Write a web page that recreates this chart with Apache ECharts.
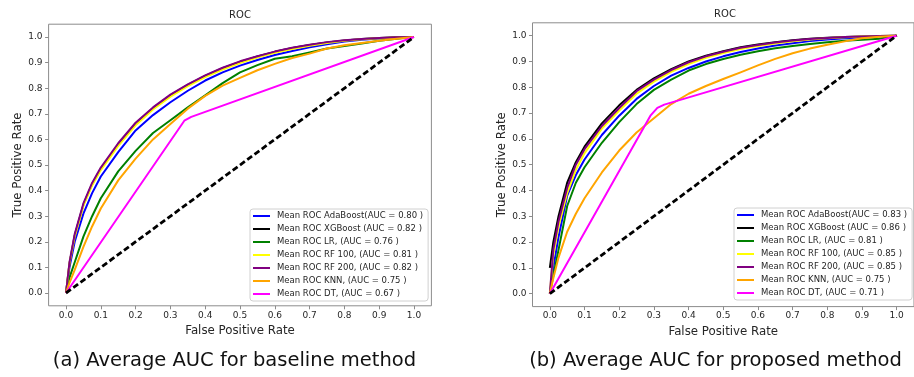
<!DOCTYPE html>
<html>
<head>
<meta charset="utf-8">
<script src="https://cdn.jsdelivr.net/npm/echarts@6/dist/echarts.min.js"></script>
<style>
html,body{margin:0;padding:0;background:#fff;}
#c{width:914px;height:377px;}
</style>
</head>
<body>
<div id="c"></div>
<script>
// ---- data ----
const tickValues = [0, 0.1, 0.2, 0.3, 0.4, 0.5, 0.6, 0.7, 0.8, 0.9, 1.0];
const fprGrid = [0, 0.01, 0.025, 0.05, 0.075, 0.1, 0.15, 0.2, 0.25, 0.3, 0.35, 0.4, 0.45, 0.5, 0.55, 0.6, 0.65, 0.7, 0.75, 0.8, 0.85, 0.9, 0.95, 1.0];

// (a) baseline
const namesA = [
  'Mean ROC AdaBoost(AUC = 0.80 )',
  'Mean ROC XGBoost (AUC = 0.82 )',
  'Mean ROC LR, (AUC = 0.76 )',
  'Mean ROC RF 100, (AUC = 0.81 )',
  'Mean ROC RF 200, (AUC = 0.82 )',
  'Mean ROC KNN, (AUC = 0.75 )',
  'Mean ROC DT, (AUC = 0.67 )'
];
const adaA   = [0, 0.10, 0.20, 0.31, 0.39, 0.455, 0.55, 0.635, 0.695, 0.745, 0.79, 0.83, 0.862, 0.888, 0.91, 0.93, 0.945, 0.96, 0.972, 0.982, 0.989, 0.994, 0.998, 1.0];
const xgbA   = [0, 0.115, 0.225, 0.345, 0.425, 0.485, 0.58, 0.662, 0.722, 0.772, 0.813, 0.848, 0.878, 0.903, 0.924, 0.942, 0.957, 0.969, 0.979, 0.986, 0.992, 0.996, 0.999, 1.0];
const lrA    = [0, 0.06, 0.12, 0.22, 0.30, 0.37, 0.475, 0.555, 0.625, 0.675, 0.725, 0.772, 0.82, 0.862, 0.89, 0.915, 0.925, 0.94, 0.955, 0.965, 0.975, 0.985, 0.993, 1.0];
const rf100A = [0, 0.115, 0.22, 0.34, 0.42, 0.48, 0.575, 0.655, 0.717, 0.767, 0.808, 0.843, 0.873, 0.898, 0.92, 0.938, 0.953, 0.966, 0.977, 0.985, 0.991, 0.995, 0.998, 1.0];
const rf200A = [0, 0.12, 0.23, 0.35, 0.43, 0.49, 0.585, 0.665, 0.725, 0.775, 0.815, 0.85, 0.88, 0.905, 0.925, 0.943, 0.958, 0.97, 0.98, 0.987, 0.992, 0.996, 0.999, 1.0];
const knnA   = [0, 0.04, 0.09, 0.18, 0.26, 0.33, 0.44, 0.525, 0.60, 0.66, 0.72, 0.77, 0.81, 0.84, 0.87, 0.895, 0.918, 0.935, 0.955, 0.968, 0.977, 0.985, 0.993, 1.0];
const dtFprA = [0, 0.34, 0.36, 1.0];
const dtTprA = [0, 0.673, 0.688, 1.0];

// (b) proposed
const namesB = [
  'Mean ROC AdaBoost(AUC = 0.83 )',
  'Mean ROC XGBoost (AUC = 0.86 )',
  'Mean ROC LR, (AUC = 0.81 )',
  'Mean ROC RF 100, (AUC = 0.85 )',
  'Mean ROC RF 200, (AUC = 0.85 )',
  'Mean ROC KNN, (AUC = 0.75 )',
  'Mean ROC DT, (AUC = 0.71 )'
];
const adaB   = [0, 0.10, 0.22, 0.38, 0.46, 0.52, 0.615, 0.69, 0.755, 0.805, 0.845, 0.875, 0.90, 0.92, 0.937, 0.95, 0.962, 0.971, 0.979, 0.985, 0.99, 0.994, 0.998, 1.0];
const xgbB   = [0.1, 0.20, 0.30, 0.43, 0.51, 0.57, 0.66, 0.73, 0.79, 0.835, 0.87, 0.90, 0.922, 0.94, 0.955, 0.966, 0.975, 0.982, 0.988, 0.992, 0.995, 0.997, 0.999, 1.0];
const lrB    = [0, 0.07, 0.17, 0.34, 0.43, 0.49, 0.585, 0.665, 0.735, 0.79, 0.83, 0.865, 0.89, 0.91, 0.926, 0.94, 0.951, 0.96, 0.968, 0.975, 0.98, 0.984, 0.988, 1.0];
const rf100B = [0, 0.15, 0.26, 0.39, 0.48, 0.545, 0.64, 0.71, 0.775, 0.822, 0.86, 0.89, 0.914, 0.933, 0.948, 0.96, 0.97, 0.978, 0.985, 0.99, 0.994, 0.997, 0.999, 1.0];
const rf200B = [0, 0.17, 0.28, 0.41, 0.50, 0.56, 0.65, 0.72, 0.785, 0.83, 0.867, 0.897, 0.92, 0.938, 0.953, 0.964, 0.974, 0.981, 0.987, 0.991, 0.995, 0.997, 0.999, 1.0];
const knnB   = [0, 0.06, 0.14, 0.24, 0.31, 0.37, 0.47, 0.555, 0.625, 0.68, 0.735, 0.775, 0.805, 0.832, 0.858, 0.885, 0.91, 0.932, 0.95, 0.965, 0.978, 0.99, 0.996, 1.0];
const dtFprB = [0, 0.29, 0.31, 0.33, 1.0];
const dtTprB = [0, 0.69, 0.72, 0.733, 1.0];

const diagFpr = [0, 1];
const diagTpr = [0, 1];

const colors = ['#0000ff', '#000000', '#008000', '#ffff00', '#800080', '#ffa500', '#ff00ff'];

// ---- build ----
const pairs = (xs, ys) => xs.map((x, i) => [x, ys[i]]);
const FONT = 'DejaVu Sans';
const GRAY = '#8c8c8c';

function makeAxes(gridIndex, isX, nameGap) {
  return {
    type: 'value', gridIndex: gridIndex, min: -0.05, max: 1.05,
    position: isX ? 'bottom' : 'left',
    name: isX ? 'False Positive Rate' : 'True Positive Rate',
    nameLocation: 'middle', nameGap: nameGap,
    nameTextStyle: { fontFamily: FONT, fontSize: 11.8, color: '#262626' },
    axisLine: { show: false, onZero: false },
    splitLine: { show: false },
    axisTick: { show: true, inside: false, length: 3.5, customValues: tickValues, lineStyle: { color: GRAY, width: 1 } },
    axisLabel: { customValues: tickValues, margin: isX ? 5 : 6, fontFamily: FONT, fontSize: 9, color: '#262626',
      formatter: v => v.toFixed(1) }
  };
}

function makeSeries(gridIndex, names, curves, dtX, dtY) {
  const out = [];
  curves.forEach((ys, i) => {
    out.push({
      type: 'line', name: names[i], xAxisIndex: gridIndex, yAxisIndex: gridIndex,
      data: pairs(fprGrid, ys), symbol: 'none',
      lineStyle: { color: colors[i], width: 2, join: 'round' }, itemStyle: { color: colors[i] },
      silent: true, animation: false, z: 2 + i
    });
  });
  out.push({
    type: 'line', name: names[6], xAxisIndex: gridIndex, yAxisIndex: gridIndex,
    data: pairs(dtX, dtY), symbol: 'none',
    lineStyle: { color: colors[6], width: 2, join: 'round' }, itemStyle: { color: colors[6] },
    silent: true, animation: false, z: 9
  });
  out.push({
    type: 'line', name: 'chance', xAxisIndex: gridIndex, yAxisIndex: gridIndex,
    data: pairs(diagFpr, diagTpr), symbol: 'none',
    lineStyle: { color: '#000', width: 2.8, type: [6, 3] },
    silent: true, animation: false, z: 10
  });
  return out;
}

function makeLegend(names, left, top) {
  return {
    data: names, orient: 'vertical', left: left, top: top,
    icon: 'rect', itemWidth: 17, itemHeight: 2, itemGap: 3,
    padding: [2, 5, 2, 3], backgroundColor: '#fff', borderColor: '#d0d0d0', borderWidth: 1, borderRadius: 3,
    selectedMode: false,
    textStyle: { fontFamily: FONT, fontSize: 8.5, lineHeight: 10, color: '#262626', padding: [0, 0, 0, 2] }
  };
}

const chart = echarts.init(document.getElementById('c'), null, { renderer: 'canvas' });
chart.setOption({
  backgroundColor: '#fff',
  animation: false,
  title: [
    { text: 'ROC', left: 240, top: 10, textAlign: 'center', padding: 0,
      textStyle: { fontFamily: FONT, fontSize: 10, fontWeight: 'normal', color: '#262626' } },
    { text: 'ROC', left: 725, top: 9, textAlign: 'center', padding: 0,
      textStyle: { fontFamily: FONT, fontSize: 10, fontWeight: 'normal', color: '#262626' } },
    { text: '(a) Average AUC for baseline method', left: 234.5, top: 351, textAlign: 'center', padding: 0,
      textStyle: { fontFamily: FONT, fontSize: 19.5, fontWeight: 'normal', color: '#111' } },
    { text: '(b) Average AUC for proposed method', left: 715.5, top: 351, textAlign: 'center', padding: 0,
      textStyle: { fontFamily: FONT, fontSize: 19.5, fontWeight: 'normal', color: '#111' } }
  ],
  grid: [
    { left: 48.6, top: 24.2, width: 382.8, height: 281.6, show: true, borderColor: GRAY, borderWidth: 1, backgroundColor: 'transparent' },
    { left: 532.5, top: 22.8, width: 385, height: 283.8, show: true, borderColor: GRAY, borderWidth: 1, backgroundColor: 'transparent' }
  ],
  xAxis: [makeAxes(0, true, 16.5), makeAxes(1, true, 19)],
  yAxis: [makeAxes(0, false, 24), makeAxes(1, false, 24)],
  legend: [makeLegend(namesA, 250, 209), makeLegend(namesB, 734, 208)],
  series: [].concat(
    makeSeries(0, namesA, [adaA, xgbA, lrA, rf100A, rf200A, knnA], dtFprA, dtTprA),
    makeSeries(1, namesB, [adaB, xgbB, lrB, rf100B, rf200B, knnB], dtFprB, dtTprB)
  )
});
</script>
</body>
</html>
